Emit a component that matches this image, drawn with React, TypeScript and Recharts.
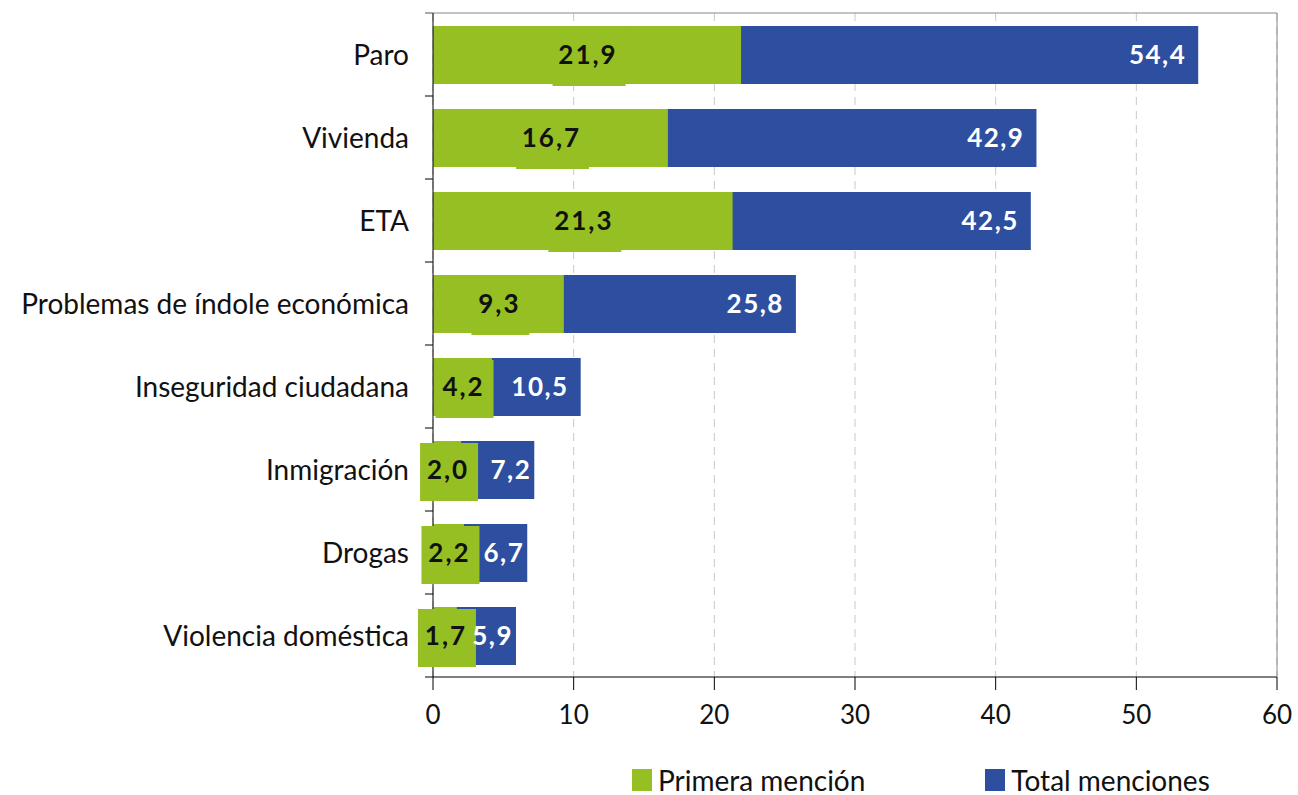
import React from 'react';
import {
    BarChart,
    Bar,
    XAxis,
    YAxis,
    CartesianGrid,
    LabelList,
} from 'recharts';

// Categorías y valores (%)
const categorias = [
    'Paro',
    'Vivienda',
    'ETA',
    'Problemas de índole económica',
    'Inseguridad ciudadana',
    'Inmigración',
    'Drogas',
    'Violencia doméstica',
];
const primeraMencion = [21.9, 16.7, 21.3, 9.3, 4.2, 2.0, 2.2, 1.7];
const totalMenciones = [54.4, 42.9, 42.5, 25.8, 10.5, 7.2, 6.7, 5.9];
const xTicks = [0, 10, 20, 30, 40, 50, 60];

const GREEN = '#95bf23';
const BLUE = '#2e4fa0';
const FONT = 'Lato, "Open Sans", sans-serif';

const data = categorias.map((name, i) => ({
    name,
    primera: primeraMencion[i],
    total: totalMenciones[i],
}));

const fmt = (v: number) => v.toFixed(1).replace('.', ',');

const BAND_HALF = 41.5;

/**
 * Etiqueta de categoría + marcas en los límites de la banda
 */
const CategoryTick = (props: any) => {
    const { x, y, payload, index } = props;
    const axisX = x + 24;
    return (
        <g>
            {index === 0 && (
                <line x1={axisX - 8} x2={axisX} y1={y - BAND_HALF} y2={y - BAND_HALF} stroke="#555" />
            )}
            <line x1={axisX - 8} x2={axisX} y1={y + BAND_HALF} y2={y + BAND_HALF} stroke="#000" />
            <text x={x} y={y} dy={10} textAnchor="end" fontSize={28} fontFamily={FONT} fill="#111">
                {payload.value}
            </text>
        </g>
    );
};

/**
 * Etiqueta de la primera mención con fondo verde
 */
const GreenLabel = (props: any) => {
    const { x, y, width, height, value } = props;
    const text = fmt(value);
    const w = text.length * 15 + 13;
    const cx = x + width / 2;
    return (
        <g>
            <rect x={cx + 2 - w / 2} y={y + 2} width={w} height={height} fill={GREEN} />
            <text
                x={cx + 1}
                y={y + height / 2}
                dy={9}
                textAnchor="middle"
                fontSize={26}
                fontWeight="bold"
                fontFamily={FONT}
                fill="#111"
                letterSpacing={2}
            >
                {text}
            </text>
        </g>
    );
};

/**
 * Etiqueta del total, al final de la barra (más pegada si la barra es corta)
 */
const BlueLabel = (props: any) => {
    const { x, y, width, height, value } = props;
    const offset = width < 120 ? 3 : 12;
    return (
        <text
            x={x + width - offset}
            y={y + height / 2}
            dy={9}
            textAnchor="end"
            fontSize={26}
            fontWeight="bold"
            fontFamily={FONT}
            fill="#fff"
            letterSpacing={1.5}
        >
            {fmt(value)}
        </text>
    );
};

const LegendItem = ({ color, label }: { color: string; label: string }) => (
    <div style={{ display: 'flex', alignItems: 'center', lineHeight: '28px' }}>
        <span style={{ width: 20, height: 22, background: color, marginRight: 6 }} />
        <span style={{ fontSize: 28, fontFamily: FONT, color: '#111' }}>{label}</span>
    </div>
);

export default function App() {
    return (
        <div style={{ position: 'absolute', left: 0, top: 0, width: 1298, height: 795, background: '#fff' }}>
            <BarChart
                width={1298}
                height={795}
                data={data}
                layout="vertical"
                margin={{ top: 12, right: 20, left: 0, bottom: 78 }}
                barSize={58}
                barGap={-58}
            >
                <CartesianGrid horizontal={false} vertical strokeDasharray="8 6" stroke="#c8c8c8" />
                <XAxis
                    type="number"
                    domain={[0, 60]}
                    ticks={xTicks}
                    stroke="#000"
                    tickSize={13}
                    tickMargin={16}
                    tick={{ fontSize: 26, fontFamily: FONT, fill: '#111' }}
                    height={40}
                />
                <XAxis
                    xAxisId="top"
                    orientation="top"
                    type="number"
                    domain={[0, 60]}
                    tick={false}
                    tickLine={false}
                    stroke="#888"
                    height={1}
                />
                <YAxis
                    type="category"
                    dataKey="name"
                    width={433}
                    stroke="#000"
                    tickLine={false}
                    tickSize={8}
                    tickMargin={16}
                    tick={<CategoryTick />}
                    interval={0}
                />
                <YAxis
                    yAxisId="right"
                    orientation="right"
                    type="category"
                    dataKey="name"
                    width={1}
                    tick={false}
                    tickLine={false}
                    stroke="#888"
                />
                <Bar dataKey="total" name="Total menciones" fill={BLUE} isAnimationActive={false} />
                <Bar dataKey="primera" name="Primera mención" fill={GREEN} isAnimationActive={false}>
                    <LabelList dataKey="primera" content={<GreenLabel />} />
                </Bar>
                <Bar dataKey="total" fill="transparent" legendType="none" isAnimationActive={false}>
                    <LabelList dataKey="total" content={<BlueLabel />} />
                </Bar>
            </BarChart>
            <div style={{ position: 'absolute', top: 766, left: 632, display: 'flex', gap: 120 }}>
                <LegendItem color={GREEN} label="Primera mención" />
                <LegendItem color={BLUE} label="Total menciones" />
            </div>
        </div>
    );
}
